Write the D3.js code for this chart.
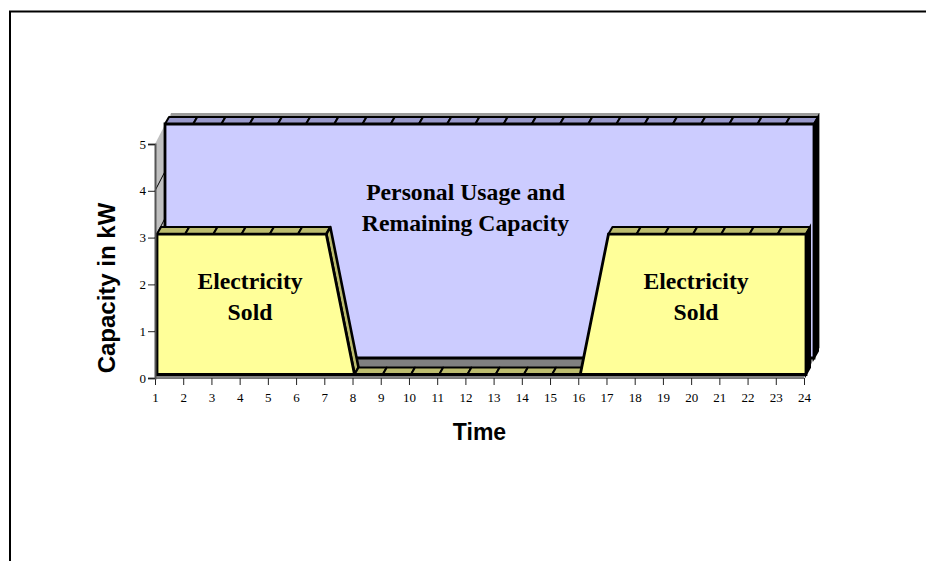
<!DOCTYPE html>
<html><head><meta charset="utf-8">
<script src="https://cdn.jsdelivr.net/npm/d3@7/dist/d3.min.js"></script>
<style>html,body{margin:0;padding:0;background:#fff}svg{display:block}</style>
</head><body><svg id="c" width="936" height="561"></svg>
<script>
const hours = [1,2,3,4,5,6,7,8,9,10,11,12,13,14,15,16,17,18,19,20,21,22,23,24];
const sold  = [3,3,3,3,3,3,3,0,0,0,0,0,0,0,0,0,3,3,3,3,3,3,3,3];
const usage = [5,5,5,5,5,5,5,5,5,5,5,5,5,5,5,5,5,5,5,5,5,5,5,5];
const yTicks = [0,1,2,3,4,5];
const labels = [
 ["Personal Usage and",465.5,200],["Remaining Capacity",465.5,231],
 ["Electricity",250,289],["Sold",250,320],
 ["Electricity",696,289],["Sold",696,320]];

const svg = d3.select("#c");
const x = d3.scaleLinear().domain([1,24]).range([155,804]);
const y = d3.scaleLinear().domain([0,5]).range([378,144]);

// frame
svg.append("path").attr("d","M10,561V11.5H926").attr("fill","none").attr("stroke","#000").attr("stroke-width",2);

const pt = (h,v,o)=>[x(h)+o[0], y(v)+o[1]];
const poly = pts => d3.line()(pts)+"Z";
const WALL=[16,-31], PF=[10,-20], PB=[14,-27], YF=[2,-3.5], YB=[6,-10.5];

// walls and floor
svg.append("path").attr("d",poly([pt(1,0,WALL),pt(1,5,WALL),pt(24,5,WALL),pt(24,0,WALL)])).attr("fill","#9c9c9c");
svg.append("path").attr("d",poly([pt(1,0,[0,0]),pt(1,5,[0,0]),pt(1,5,WALL),pt(1,0,WALL)])).attr("fill","#c0c0c0");
svg.append("path").attr("d",poly([pt(1,0,[0,0]),pt(24,0,[0,0]),pt(24,0,WALL),pt(1,0,WALL)])).attr("fill","#808080");

// wall gridlines
yTicks.filter(v=>v>0&&v<5).forEach(v=>{
  svg.append("path").attr("d",d3.line()([pt(1,v,[0,0]),pt(1,v,WALL)])).attr("stroke","#000").attr("stroke-width",1).attr("fill","none");
});

function layer(vals, F, B, front, top, side){
  const g = svg.append("g");
  const data = hours.map((h,i)=>[h,vals[i]]);
  data.slice(0,-1).forEach((d,i)=>{
    const n = data[i+1];
    if (n[1] > d[1]) return;           // rising faces are hidden behind the front
    const slant = n[1] < d[1];
    g.append("path").attr("d",poly([pt(d[0],d[1],F),pt(n[0],n[1],F),pt(n[0],n[1],B),pt(d[0],d[1],B)]))
      .attr("fill",top).attr("stroke","#000").attr("stroke-width",slant?2.6:2).attr("stroke-linejoin","round");
  });
  const e = data[data.length-1];
  g.append("path").attr("d",poly([pt(e[0],0,F),pt(e[0],e[1],F),pt(e[0],e[1],B),pt(e[0],0,B)]))
    .attr("fill",side).attr("stroke","#000").attr("stroke-width",2);
  const area = d3.area().x(d=>x(d[0])+F[0]).y0(y(0)+F[1]).y1(d=>y(d[1])+F[1]);
  g.append("path").attr("d",area(data)).attr("fill",front).attr("stroke","#000").attr("stroke-width",2.8).attr("stroke-linejoin","miter");
}
layer(usage, PF, PB, "#ccccff", "#9999cc", "#000");
layer(sold,  YF, YB, "#ffff99", "#bcbc6e", "#000");

// axes
const ax = d3.axisBottom(x).tickValues(hours).tickFormat(d3.format("d")).tickSize(7).tickPadding(8);
const ay = d3.axisLeft(y).tickValues(yTicks).tickFormat(d3.format("d")).tickSize(7).tickPadding(2);
const gx = svg.append("g").attr("transform","translate(0,378)").call(ax);
const gy = svg.append("g").attr("transform","translate(155,0)").call(ay);
[gx,gy].forEach(g=>{
  g.selectAll("text").attr("font-family","'Liberation Serif'").attr("font-size",13).attr("fill","#000");
  g.selectAll("line").attr("stroke","#222");
});
gx.select(".domain").attr("stroke","#777").attr("stroke-width",1);
gy.select(".domain").attr("stroke","#555").attr("stroke-width",2);

// titles
svg.append("text").attr("x",479.5).attr("y",440).attr("text-anchor","middle").attr("font-family","'Liberation Sans'").attr("font-weight","bold").attr("font-size",23).text("Time");
svg.append("text").attr("transform","translate(115,288) rotate(-90)").attr("text-anchor","middle").attr("font-family","'Liberation Sans'").attr("font-weight","bold").attr("font-size",24).text("Capacity in kW");

svg.selectAll("text.lab").data(labels).enter().append("text").attr("class","lab")
  .attr("x",d=>d[1]).attr("y",d=>d[2]).attr("text-anchor","middle")
  .attr("font-family","'Liberation Serif'").attr("font-weight","bold").attr("font-size",23.7).text(d=>d[0]);
</script></body></html>
